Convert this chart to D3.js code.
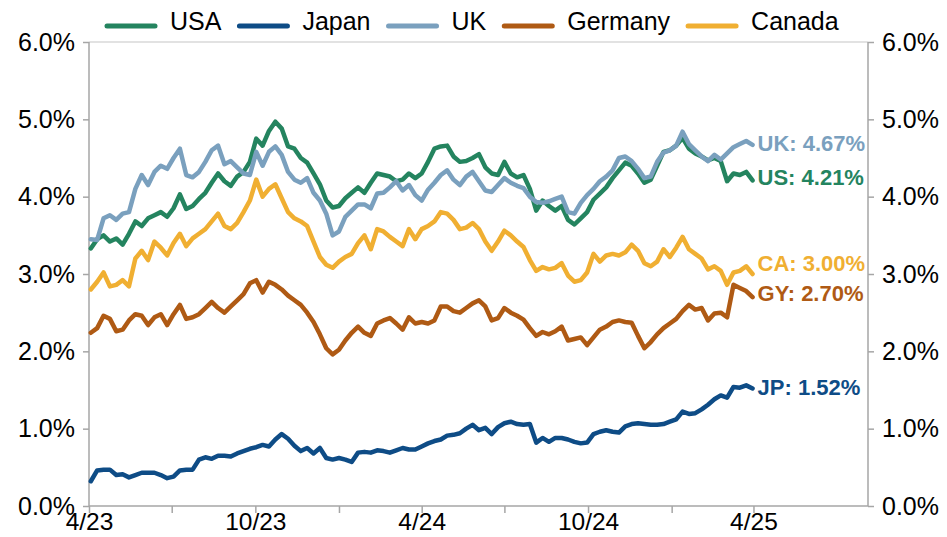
<!DOCTYPE html>
<html>
<head>
<meta charset="UTF-8">
<style>
  body { margin: 0; background: #fff; }
  svg { display: block; font-family: "Liberation Sans", Arial, sans-serif; }
</style>
</head>
<body>
<svg id="chart" width="947" height="537"></svg>
<script src="https://cdnjs.cloudflare.com/ajax/libs/d3/7.8.5/d3.min.js"></script>
<script>
// weekly readings (Mondays), 10y government bond yields, %
const dates = [
  "2023-04-03","2023-04-10","2023-04-17","2023-04-24","2023-05-01","2023-05-08","2023-05-15","2023-05-22","2023-05-29","2023-06-05",
  "2023-06-12","2023-06-19","2023-06-26","2023-07-03","2023-07-10","2023-07-17","2023-07-24","2023-07-31","2023-08-07","2023-08-14",
  "2023-08-21","2023-08-28","2023-09-04","2023-09-11","2023-09-18","2023-09-25","2023-10-02","2023-10-09","2023-10-16","2023-10-23",
  "2023-10-30","2023-11-06","2023-11-13","2023-11-20","2023-11-27","2023-12-04","2023-12-11","2023-12-18","2023-12-25","2024-01-01",
  "2024-01-08","2024-01-15","2024-01-22","2024-01-29","2024-02-05","2024-02-12","2024-02-19","2024-02-26","2024-03-04","2024-03-11",
  "2024-03-18","2024-03-25","2024-04-01","2024-04-08","2024-04-15","2024-04-22","2024-04-29","2024-05-06","2024-05-13","2024-05-20",
  "2024-05-27","2024-06-03","2024-06-10","2024-06-17","2024-06-24","2024-07-01","2024-07-08","2024-07-15","2024-07-22","2024-07-29",
  "2024-08-05","2024-08-12","2024-08-19","2024-08-26","2024-09-02","2024-09-09","2024-09-16","2024-09-23","2024-09-30","2024-10-07",
  "2024-10-14","2024-10-21","2024-10-28","2024-11-04","2024-11-11","2024-11-18","2024-11-25","2024-12-02","2024-12-09","2024-12-16",
  "2024-12-23","2024-12-30","2025-01-06","2025-01-13","2025-01-20","2025-01-27","2025-02-03","2025-02-10","2025-02-17","2025-02-24",
  "2025-03-03","2025-03-10","2025-03-17","2025-03-24","2025-03-31"
];

const usa = [3.33,3.45,3.50,3.42,3.46,3.38,3.52,3.68,3.62,3.72, 3.76,3.80,3.74,3.85,4.03,3.84,3.88,3.97,4.05,4.18,
  4.30,4.20,4.14,4.26,4.32,4.45,4.75,4.66,4.85,4.97, 4.88,4.65,4.62,4.50,4.44,4.30,4.16,3.95,3.86,3.88,
  3.98,4.05,4.12,4.05,4.18,4.30,4.28,4.26,4.20,4.22, 4.30,4.24,4.30,4.45,4.62,4.65,4.66,4.52,4.45,4.46,
  4.50,4.55,4.38,4.30,4.28,4.45,4.30,4.25,4.28,4.10, 3.82,3.95,3.88,3.82,3.88,3.70,3.64,3.72,3.80,3.96,
  4.04,4.12,4.24,4.34,4.44,4.40,4.30,4.18,4.22,4.40, 4.58,4.60,4.66,4.76,4.62,4.56,4.52,4.47,4.50,4.46,
  4.20,4.30,4.28,4.32,4.21];

const japan = [0.32,0.46,0.47,0.47,0.40,0.41,0.37,0.40,0.43,0.43, 0.43,0.40,0.36,0.38,0.46,0.47,0.47,0.60,0.63,0.61,
  0.65,0.65,0.64,0.68,0.71,0.74,0.76,0.79,0.77,0.86, 0.93,0.87,0.78,0.71,0.75,0.68,0.75,0.62,0.60,0.62,
  0.60,0.57,0.69,0.70,0.69,0.72,0.71,0.69,0.72,0.75, 0.73,0.73,0.77,0.81,0.84,0.86,0.91,0.92,0.94,1.00,
  1.05,0.98,1.01,0.93,1.02,1.07,1.09,1.06,1.05,1.06, 0.82,0.88,0.83,0.88,0.88,0.86,0.83,0.81,0.82,0.93,
  0.96,0.98,0.96,0.95,1.03,1.06,1.07,1.06,1.05,1.05, 1.06,1.09,1.12,1.22,1.19,1.20,1.25,1.31,1.38,1.43,
  1.40,1.54,1.53,1.56,1.52];

const uk = [3.45,3.44,3.72,3.76,3.70,3.78,3.80,4.10,4.28,4.15, 4.32,4.40,4.36,4.50,4.62,4.28,4.25,4.32,4.45,4.60,
  4.66,4.42,4.46,4.38,4.30,4.28,4.58,4.40,4.58,4.65, 4.54,4.32,4.22,4.18,4.24,4.05,3.95,3.78,3.50,3.55,
  3.74,3.82,3.90,3.90,3.85,4.04,4.05,4.12,4.20,4.08, 4.15,4.02,3.95,4.09,4.18,4.28,4.34,4.22,4.15,4.26,
  4.32,4.20,4.08,4.06,4.15,4.24,4.18,4.14,4.11,4.00, 3.93,3.92,3.94,3.97,4.00,3.80,3.78,3.92,4.02,4.10,
  4.20,4.26,4.34,4.50,4.52,4.46,4.36,4.24,4.26,4.45, 4.57,4.60,4.66,4.84,4.68,4.60,4.52,4.46,4.54,4.48,
  4.56,4.64,4.68,4.72,4.67];

const germany = [2.24,2.30,2.46,2.42,2.26,2.28,2.40,2.48,2.46,2.34, 2.44,2.48,2.34,2.48,2.60,2.42,2.44,2.48,2.56,2.64,
  2.56,2.50,2.58,2.66,2.74,2.88,2.92,2.76,2.90,2.86, 2.80,2.72,2.66,2.60,2.50,2.38,2.22,2.04,1.96,2.02,
  2.14,2.24,2.32,2.24,2.20,2.36,2.40,2.43,2.36,2.28, 2.44,2.36,2.38,2.36,2.40,2.58,2.58,2.52,2.50,2.56,
  2.62,2.66,2.58,2.40,2.43,2.56,2.50,2.46,2.41,2.30, 2.20,2.25,2.22,2.26,2.32,2.14,2.16,2.18,2.08,2.18,
  2.28,2.32,2.38,2.40,2.38,2.37,2.20,2.04,2.12,2.22, 2.30,2.36,2.42,2.52,2.60,2.54,2.56,2.40,2.49,2.50,
  2.44,2.86,2.82,2.78,2.70];

const canada = [2.80,2.90,3.02,2.84,2.86,2.92,2.84,3.20,3.30,3.18, 3.42,3.34,3.24,3.40,3.52,3.36,3.46,3.52,3.58,3.68,
  3.78,3.62,3.58,3.66,3.80,3.95,4.22,4.00,4.10,4.16, 3.98,3.80,3.72,3.68,3.62,3.42,3.22,3.12,3.08,3.16,
  3.22,3.26,3.40,3.50,3.32,3.58,3.55,3.48,3.42,3.36, 3.58,3.45,3.58,3.62,3.68,3.80,3.78,3.70,3.58,3.60,
  3.66,3.58,3.42,3.30,3.42,3.56,3.50,3.42,3.35,3.18, 3.04,3.09,3.06,3.08,3.14,2.98,2.90,2.92,3.02,3.26,
  3.16,3.24,3.26,3.24,3.28,3.38,3.30,3.14,3.10,3.16, 3.32,3.22,3.34,3.48,3.32,3.26,3.20,3.06,3.10,3.04,
  2.86,3.02,3.04,3.10,3.00];

const names = ["USA", "Japan", "UK", "Germany", "Canada"];
const shortNames = ["US", "JP", "UK", "GY", "CA"];
const colors = ["#24845f", "#0e4c86", "#7aa0be", "#af5a14", "#f0af32"];
const values = [usa, japan, uk, germany, canada];
const yTicks = [0, 1, 2, 3, 4, 5, 6];

const parse = d3.timeParse("%Y-%m-%d");
const series = names.map((n, i) => ({
  name: n, short: shortNames[i], color: colors[i],
  points: dates.map((d, j) => ({date: parse(d), value: values[i][j]}))
}));

const svg = d3.select("#chart");
const plotLeft = 89, plotRight = 868, plotTop = 42, plotBottom = 506;

let x = d3.scaleTime()
  .domain([new Date(2023, 3, 1), new Date(2025, 7, 5)])
  .range([plotLeft, plotRight]);
let y = d3.scaleLinear().domain([0, 6]).range([plotBottom, plotTop]);

// top border
svg.append("line")
  .attr("x1", plotLeft).attr("x2", plotRight).attr("y1", plotTop).attr("y2", plotTop)
  .attr("stroke", "#d9d9d9").attr("stroke-width", 1.5);

// axes
function styleAxis(g) {
  g.select(".domain").remove();
  g.selectAll(".tick line").attr("stroke", "#a6a6a6").attr("stroke-width", 1.5);
  g.selectAll(".tick text").attr("fill", "#000").style("font-size", "25px");
}

svg.append("g")
  .attr("transform", "translate(" + plotLeft + ",0)")
  .call(d3.axisLeft(y).tickValues(yTicks).tickFormat(d => d.toFixed(1) + "%").tickSize(6).tickPadding(8))
  .call(styleAxis);

svg.append("g")
  .attr("transform", "translate(" + plotRight + ",0)")
  .call(d3.axisRight(y).tickValues(yTicks).tickFormat(d => d.toFixed(1) + "%").tickSize(6).tickPadding(8))
  .call(styleAxis);

let xTicks = d3.timeMonth.every(3).range(new Date(2023, 3, 1), new Date(2025, 3, 2));
let fmt = d3.timeFormat("%-m/%y");
svg.append("g")
  .attr("transform", "translate(0," + plotBottom + ")")
  .call(d3.axisBottom(x).tickValues(xTicks).tickFormat((d, i) => i % 2 === 0 ? fmt(d) : "").tickSize(7).tickPadding(0))
  .call(styleAxis)
  .selectAll(".tick text").style("font-size", "24.5px");

// axis lines
svg.append("line").attr("x1", plotLeft).attr("x2", plotLeft).attr("y1", plotTop).attr("y2", plotBottom)
  .attr("stroke", "#a6a6a6").attr("stroke-width", 1.5);
svg.append("line").attr("x1", plotRight).attr("x2", plotRight).attr("y1", plotTop).attr("y2", plotBottom)
  .attr("stroke", "#a6a6a6").attr("stroke-width", 1.5);
svg.append("line").attr("x1", plotLeft).attr("x2", plotRight).attr("y1", plotBottom).attr("y2", plotBottom)
  .attr("stroke", "#a6a6a6").attr("stroke-width", 1.5);

// lines
let line = d3.line().x(d => x(d.date)).y(d => y(d.value));
svg.append("g").selectAll("path")
  .data(series)
  .enter()
  .append("path")
  .attr("d", d => line(d.points))
  .attr("fill", "none")
  .attr("stroke", d => d.color)
  .attr("stroke-width", 4.5)
  .attr("stroke-linejoin", "round")
  .attr("stroke-linecap", "round");

// end labels (nudged so they don't collide)
const nudge = {US: -3, JP: -1, UK: -2, GY: -4, CA: -11};
svg.append("g").selectAll("text")
  .data(series)
  .enter()
  .append("text")
  .attr("x", d => x(d.points[d.points.length - 1].date) + 5)
  .attr("y", d => y(d.points[d.points.length - 1].value) + nudge[d.short])
  .attr("dy", "0.36em")
  .attr("fill", d => d.color)
  .style("font-size", "22px")
  .style("font-weight", "bold")
  .text(d => d.short + ": " + d.points[d.points.length - 1].value.toFixed(2) + "%");

// legend
let lx = 107;
series.forEach(s => {
  let g = svg.append("g");
  g.append("line")
    .attr("x1", lx).attr("x2", lx + 48).attr("y1", 26).attr("y2", 26)
    .attr("stroke", s.color).attr("stroke-width", 5).attr("stroke-linecap", "round");
  let t = g.append("text")
    .attr("x", lx + 63).attr("y", 21).attr("dy", "0.36em")
    .style("font-size", "25px")
    .text(s.name);
  lx = lx + 63 + t.node().getComputedTextLength() + 18;
});
</script>
</body>
</html>
